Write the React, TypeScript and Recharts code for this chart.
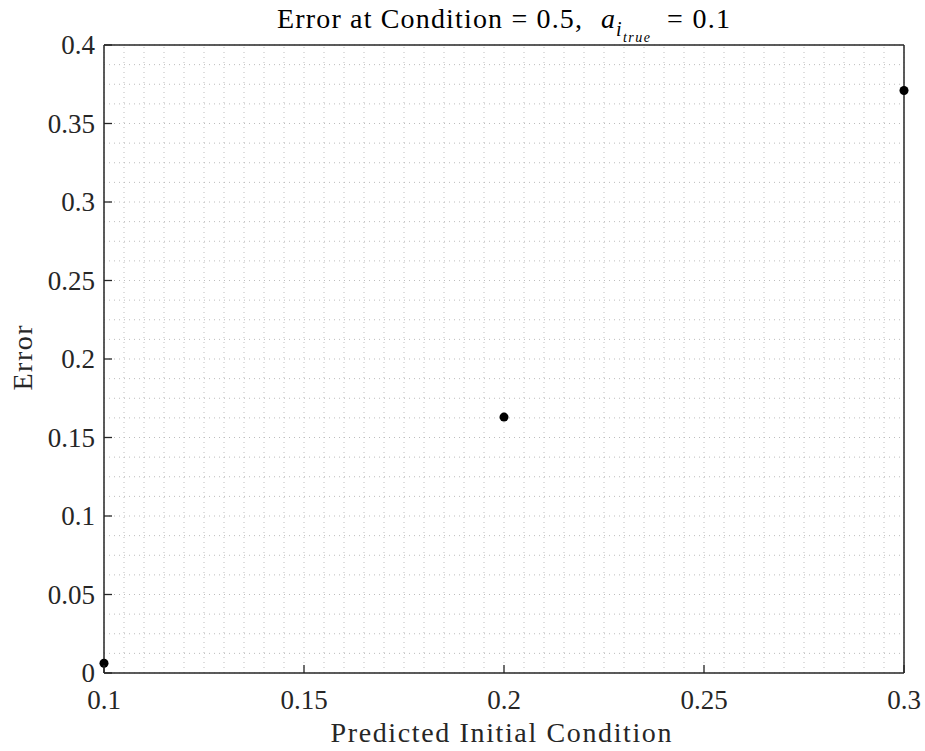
import React from "react";
import {
  ScatterChart,
  Scatter,
  XAxis,
  YAxis,
  ReferenceLine,
} from "recharts";

const predictedIC = [0.1, 0.2, 0.3];
const errorValues = [0.0062, 0.163, 0.371];

const xTicks = [0.1, 0.15, 0.2, 0.25, 0.3];
const yTicks = [0, 0.05, 0.1, 0.15, 0.2, 0.25, 0.3, 0.35, 0.4];
const xTickLabels = ["0.1", "0.15", "0.2", "0.25", "0.3"];
const yTickLabels = ["0", "0.05", "0.1", "0.15", "0.2", "0.25", "0.3", "0.35", "0.4"];

// minor grid positions (MATLAB-style dotted minor grid)
const xMinor = Array.from({ length: 41 }, (_, i) => +(0.1 + i * 0.005).toFixed(4));
const yMinor = Array.from({ length: 33 }, (_, i) => +(i * 0.0125).toFixed(4));

const data = predictedIC.map((x, i) => ({ x, y: errorValues[i] }));

const FONT = "'Liberation Serif', 'DejaVu Serif', serif";
const AXIS = "#262626";
const TEXT = "#262626";
const FS = 28;
const TICK_FS = 27;
const TICK_LEN = 8;

const BottomTick = (props: any) => {
  const { x, y, payload } = props;
  const idx = xTicks.indexOf(payload.value);
  return (
    <g>
      <line x1={x} x2={x} y1={y} y2={y - TICK_LEN} stroke={AXIS} strokeWidth={1.3} />
      <text x={x} y={y + 36} textAnchor="middle" fontFamily={FONT} fontSize={TICK_FS} fill={TEXT}>
        {idx >= 0 ? xTickLabels[idx] : payload.value}
      </text>
    </g>
  );
};

const TopTick = (props: any) => {
  const { x, y } = props;
  return <line x1={x} x2={x} y1={y} y2={y + TICK_LEN} stroke={AXIS} strokeWidth={1.3} />;
};

const LeftTick = (props: any) => {
  const { x, y, payload } = props;
  const idx = yTicks.indexOf(payload.value);
  return (
    <g>
      <line x1={x} x2={x + TICK_LEN} y1={y} y2={y} stroke={AXIS} strokeWidth={1.3} />
      <text x={x - 9} y={y + 9} textAnchor="end" fontFamily={FONT} fontSize={TICK_FS} fill={TEXT}>
        {idx >= 0 ? yTickLabels[idx] : payload.value}
      </text>
    </g>
  );
};

const RightTick = (props: any) => {
  const { x, y } = props;
  return <line x1={x} x2={x - TICK_LEN} y1={y} y2={y} stroke={AXIS} strokeWidth={1.3} />;
};

export default function App() {
  return (
    <div style={{ position: "absolute", left: 0, top: 0, width: 925, height: 751, background: "#fff" }}>
      <ScatterChart width={925} height={751} margin={{ top: 44, right: 20, bottom: 0, left: 0 }}>
        {xMinor.map((v) => (
          <ReferenceLine key={"gx" + v} x={v} stroke="#bdbdbd" strokeWidth={1} strokeDasharray="1 4" />
        ))}
        {yMinor.map((v) => (
          <ReferenceLine key={"gy" + v} y={v} stroke="#bdbdbd" strokeWidth={1} strokeDasharray="1 4" />
        ))}
        <XAxis
          type="number"
          dataKey="x"
          domain={[0.1, 0.3]}
          ticks={xTicks}
          interval={0}
          height={78}
          tickSize={0}
          tickMargin={0}
          tickLine={false}
          axisLine={{ stroke: AXIS, strokeWidth: 1.5 }}
          tick={<BottomTick />}
        />
        <XAxis
          xAxisId="top"
          orientation="top"
          type="number"
          domain={[0.1, 0.3]}
          ticks={xTicks}
          interval={0}
          height={1}
          tickSize={0}
          tickMargin={0}
          tickLine={false}
          axisLine={{ stroke: AXIS, strokeWidth: 1.5 }}
          tick={<TopTick />}
        />
        <YAxis
          type="number"
          dataKey="y"
          domain={[0, 0.4]}
          ticks={yTicks}
          interval={0}
          width={104}
          tickSize={0}
          tickMargin={0}
          tickLine={false}
          axisLine={{ stroke: AXIS, strokeWidth: 1.5 }}
          tick={<LeftTick />}
        />
        <YAxis
          yAxisId="right"
          orientation="right"
          type="number"
          domain={[0, 0.4]}
          ticks={yTicks}
          interval={0}
          width={1}
          tickSize={0}
          tickMargin={0}
          tickLine={false}
          axisLine={{ stroke: AXIS, strokeWidth: 1.5 }}
          tick={<RightTick />}
        />
        <Scatter data={data} fill="#000000" isAnimationActive={false} />
      </ScatterChart>
      <svg
        width={925}
        height={751}
        style={{ position: "absolute", left: 0, top: 0, pointerEvents: "none" }}
      >
        <g fontFamily={FONT} fill="#000">
          <text x={277} y={28} fontSize={FS} textLength={305} lengthAdjust="spacing">
            Error at Condition = 0.5,
          </text>
          <text x={601} y={28} fontSize={FS} fontStyle="italic">a</text>
          <text x={616} y={36} fontSize={20} fontStyle="italic">i</text>
          <text x={623} y={42} fontSize={14} fontStyle="italic" textLength={27} lengthAdjust="spacing">
            true
          </text>
          <text x={667} y={28} fontSize={FS} textLength={63} lengthAdjust="spacing">= 0.1</text>
        </g>
        <text
          x={501}
          y={742}
          textAnchor="middle"
          fontFamily={FONT}
          fontSize={FS}
          fill={TEXT}
          textLength={341}
          lengthAdjust="spacing"
        >
          Predicted Initial Condition
        </text>
        <text
          x={0}
          y={0}
          transform="translate(32 358) rotate(-90)"
          textAnchor="middle"
          fontFamily={FONT}
          fontSize={FS}
          fill={TEXT}
          textLength={65}
          lengthAdjust="spacing"
        >
          Error
        </text>
      </svg>
    </div>
  );
}
